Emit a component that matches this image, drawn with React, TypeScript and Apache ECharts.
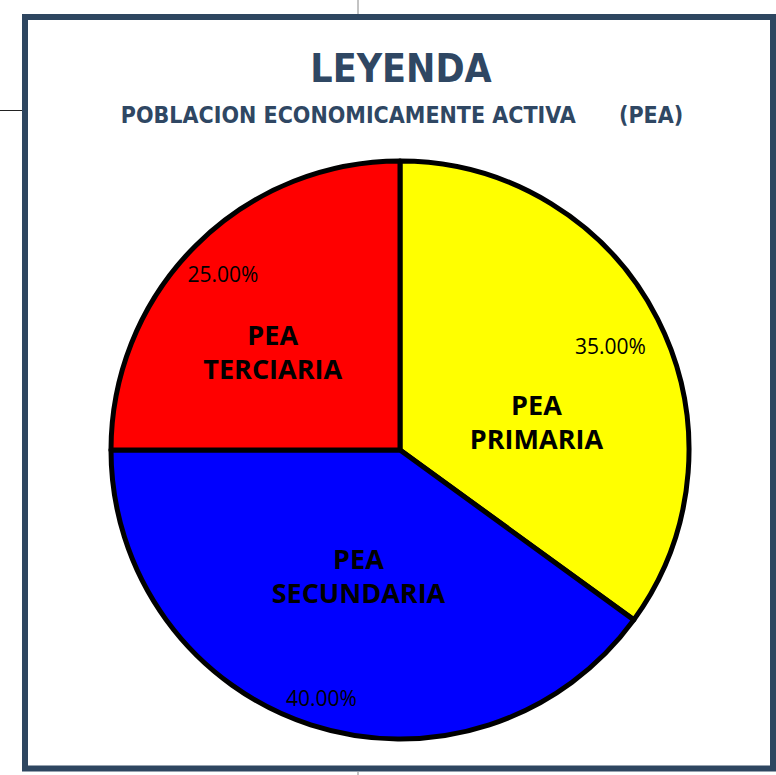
import React, { useEffect, useRef } from "react";
import * as echarts from "echarts";

const categories = ["PEA\nPRIMARIA", "PEA\nSECUNDARIA", "PEA\nTERCIARIA"];
const values = [35, 40, 25];
const colors = ["#FFFF00", "#0000FF", "#FF0000"];

const titleText = "LEYENDA";
const subtitleText = "POBLACION ECONOMICAMENTE ACTIVA      (PEA)";

// label fine-tuning offsets (styling)
const nameOffsets = [
  [5, 38],
  [4, -15],
  [-23, 6],
];
const pctOffsets = [
  [-10, 8],
  [-2, 13],
  [-2, -1],
];

const FRAME = "#2E4660";
const TITLE = "#2F4763";
const NARROW = "'Liberation Sans Narrow', 'DejaVu Sans Condensed', 'Noto Sans', sans-serif";

export default function App() {
  const ref = useRef<HTMLDivElement>(null);
  useEffect(() => {
    if (!ref.current) return;
    const chart = echarts.init(ref.current, null, { renderer: "svg" });
    const data = categories.map((c, i) => ({
      name: c,
      value: values[i],
      itemStyle: { color: colors[i] },
    }));
    const R = 289;
    chart.setOption({
      animation: false,
      backgroundColor: "#ffffff",
      graphic: [
        { type: "line", shape: { x1: 358, y1: 0, x2: 358, y2: 14 }, style: { stroke: "#888", lineWidth: 1 } },
        { type: "line", shape: { x1: 358, y1: 772, x2: 358, y2: 775 }, style: { stroke: "#888", lineWidth: 1 } },
        { type: "line", shape: { x1: 0, y1: 110.5, x2: 22, y2: 110.5 }, style: { stroke: "#222", lineWidth: 1 } },
        {
          type: "rect",
          shape: { x: 25, y: 17, width: 748, height: 751.5 },
          style: { fill: "transparent", stroke: FRAME, lineWidth: 6 },
          z: 10,
        },
        {
          type: "text",
          x: 401,
          y: 68,
          style: {
            text: titleText,
            textAlign: "center",
            textVerticalAlign: "middle",
            fontFamily: NARROW,
            fontWeight: "bold",
            fontSize: 39,
            fill: TITLE,
          },
        },
        {
          type: "text",
          x: 402,
          y: 115,
          style: {
            text: subtitleText,
            textAlign: "center",
            textVerticalAlign: "middle",
            fontFamily: NARROW,
            fontWeight: "bold",
            fontSize: 23,
            fill: TITLE,
          },
        },
      ],
      series: [
        {
          type: "pie",
          center: [400, 450],
          radius: [0, R],
          startAngle: 90,
          clockwise: true,
          silent: true,
          itemStyle: { borderColor: "#000000", borderWidth: 5 },
          label: {
            show: true,
            position: "inside",
            formatter: (p: any) => p.name,
            color: "#000000",
            fontFamily: "'Open Sans', sans-serif",
            fontWeight: "bold",
            fontSize: 27,
            lineHeight: 34,
            textBorderWidth: 0,
            align: "center",
          },
          labelLine: { show: false },
          labelLayout: (p: any) => ({ dx: nameOffsets[p.dataIndex][0], dy: nameOffsets[p.dataIndex][1] }),
          emphasis: { disabled: true },
          data,
        },
        {
          type: "pie",
          center: [400, 450],
          radius: [200, R],
          startAngle: 90,
          clockwise: true,
          silent: true,
          z: 3,
          itemStyle: { color: "transparent", borderWidth: 0 },
          label: {
            show: true,
            position: "inside",
            formatter: (p: any) => p.percent.toFixed(2) + "%",
            color: "#000000",
            fontFamily: "'Open Sans', sans-serif",
            fontSize: 21,
            textBorderWidth: 0,
          },
          labelLine: { show: false },
          labelLayout: (p: any) => ({ dx: pctOffsets[p.dataIndex][0], dy: pctOffsets[p.dataIndex][1] }),
          emphasis: { disabled: true },
          data: categories.map((c, i) => ({ name: c, value: values[i], itemStyle: { color: "transparent" } })),
        },
      ],
    });
    return () => chart.dispose();
  }, []);
  return (
    <div
      ref={ref}
      style={{ position: "absolute", left: 0, top: 0, width: 776, height: 775 }}
    />
  );
}
